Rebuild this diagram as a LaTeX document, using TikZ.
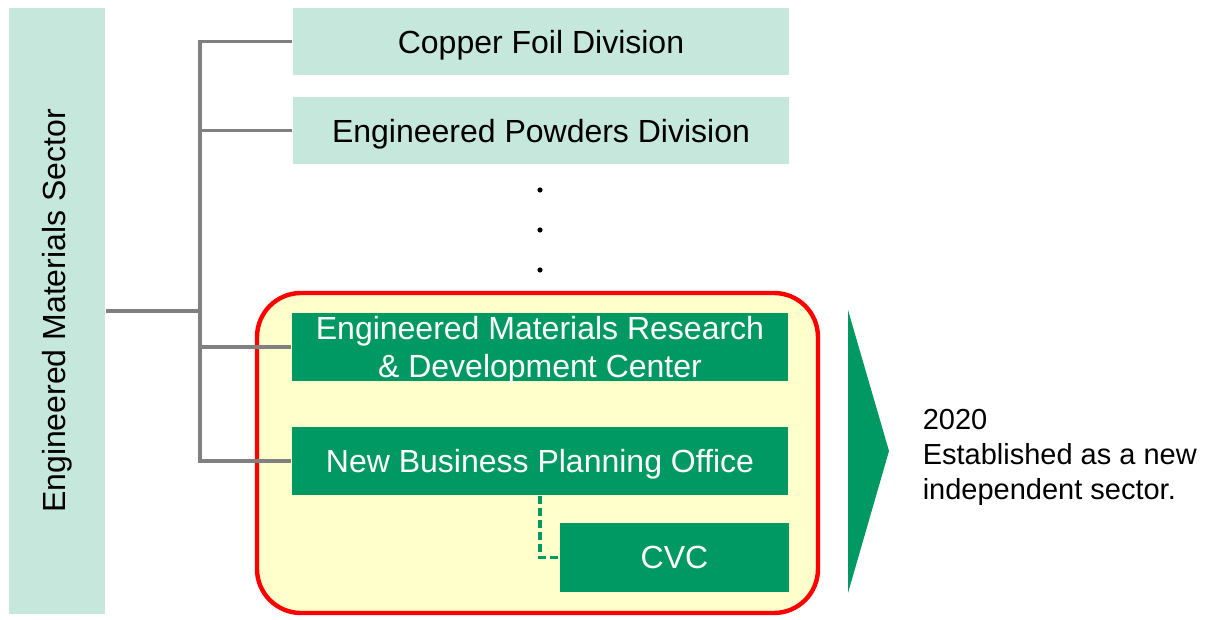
\documentclass[tikz,border=0pt]{standalone}
\usepackage{fontspec}
\setmainfont{Liberation Sans}

\definecolor{palegreen}{RGB}{198,231,219}
\definecolor{dkgreen}{RGB}{0,153,99}
\definecolor{paleyellow}{RGB}{255,255,204}
\definecolor{linegrey}{RGB}{128,128,128}

\tikzset{every picture/.style={line width=0.75pt}}
\tikzset{
  unit/.style={fill=palegreen, inner sep=0pt, minimum width=248pt, minimum height=33.5pt,
    text depth=0pt, font=\fontsize{16}{19}\selectfont},
  newunit/.style={fill=dkgreen, text=white, inner sep=0pt, minimum width=248pt, minimum height=34pt,
    text depth=0pt, align=center, font=\fontsize{16}{19}\selectfont},
  branch/.style={draw=linegrey, line width=1.6pt},
  sublink/.style={draw=dkgreen, line width=1.6pt, dash pattern=on 4pt off 2pt},
}

\begin{document}
\begin{tikzpicture}[x=0.5pt,y=-0.5pt]
    \useasboundingbox (0,0) rectangle (1217,620);
    \draw[red, line width=2.2pt, fill=paleyellow, rounded corners=22pt] (257,293) rectangle (818,613);
    \node[unit, minimum width=48pt, minimum height=303pt] (sector) at (57,311) {\rotatebox{90}{Engineered Materials Sector}};
    \node[unit] (copper) at (541,41.5) {Copper Foil Division};
    \node[unit] (powders) at (541,130.5) {Engineered Powders Division};
    \node[newunit] (rnd) at (540,347) {Engineered Materials Research\\\& Development Center};
    \node[newunit] (nbpo) at (540,461) {New Business Planning Office};
    \node[newunit, minimum width=114.5pt, minimum height=34.5pt] (cvc) at (674.5,557.5) {CVC};
    \coordinate (hub) at (200,311);
    \draw[branch] (sector.east) -- (hub);
    \foreach \n in {copper,powders,rnd,nbpo}
        \draw[branch] (hub) |- (\n.west);
    \draw[sublink] (nbpo.south) |- (cvc.west);
    \foreach \y in {190,230,270}
        \fill (540,\y) circle (1.3pt);
    \fill[dkgreen] (848,310) -- (889,451) -- (848,593) -- cycle;
    \node[anchor=north west, inner sep=0pt, align=left, font=\fontsize{14.5}{17.75}\selectfont] (note) at (922,408)
        {2020\\Established as a new\\independent sector.};
\end{tikzpicture}
\end{document}
